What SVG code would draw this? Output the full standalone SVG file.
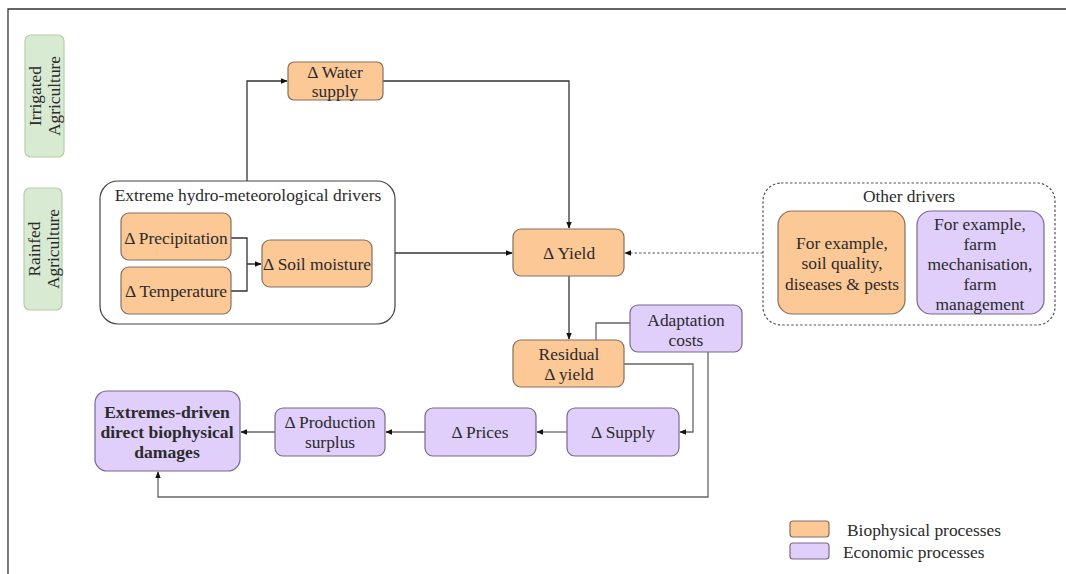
<svg xmlns="http://www.w3.org/2000/svg" width="1066" height="574" viewBox="0 0 1066 574">
<defs>
<style>
text{font-family:"Liberation Serif","DejaVu Serif",serif;font-size:17.4px;fill:#2b2b2b;text-anchor:middle;dominant-baseline:central}
.bio{fill:#fbc896;stroke:#85705e;stroke-width:1.2}
.eco{fill:#e0cffb;stroke:#786a8c;stroke-width:1.2}
.agr{fill:#d8ead2;stroke:#b2cfa8;stroke-width:1.2}
.cont{fill:none;stroke:#444;stroke-width:1.2}
.dash{fill:none;stroke:#555;stroke-width:1.2;stroke-dasharray:2.5 2}
.ln{fill:none;stroke:#333;stroke-width:1.3}
.lg{fill:none;stroke:#666;stroke-width:1.3}
.b{font-weight:bold;font-size:17.6px}
</style>
<marker id="ah" viewBox="0 0 10 10" refX="9" refY="5" markerWidth="7" markerHeight="7" orient="auto" markerUnits="userSpaceOnUse">
<path d="M0,1 L10,5 L0,9 z" fill="#111"/>
</marker>
</defs>
<rect width="1066" height="574" fill="#fff"/>
<path d="M8,574 V9 H1066" fill="none" stroke="#333" stroke-width="1.3"/>

<g id="irrigated"><rect class="agr" x="25" y="35" width="39" height="122" rx="6"/>
<text transform="translate(44,96) rotate(-90)"><tspan x="0" y="-9">Irrigated</tspan><tspan x="0" y="10">Agriculture</tspan></text></g>
<g id="rainfed"><rect class="agr" x="24" y="188" width="38" height="122" rx="6"/>
<text transform="translate(43,249) rotate(-90)"><tspan x="0" y="-9">Rainfed</tspan><tspan x="0" y="10">Agriculture</tspan></text></g>

<g id="connectors">
<path class="ln" d="M231,238 H247 V264 M231,291 H247 V264 H261" marker-end="url(#ah)"/>
<path class="ln" d="M247,181 V81 H287" marker-end="url(#ah)"/>
<path class="ln" d="M383,81 H569 V228" marker-end="url(#ah)"/>
<path class="ln" d="M395,253 H512" marker-end="url(#ah)"/>
<path class="dash" d="M763,253 H625" marker-end="url(#ah)"/>
<path class="ln" d="M569,276 V339" marker-end="url(#ah)"/>
<path class="lg" d="M630,323 H596 V340"/>
<path class="lg" d="M624,364 H693 V432 H680" marker-end="url(#ah)"/>
<path class="lg" d="M567,432 H537" marker-end="url(#ah)"/>
<path class="lg" d="M425,432 H386" marker-end="url(#ah)"/>
<path class="lg" d="M275,432 H241" marker-end="url(#ah)"/>
<path class="lg" d="M708,352 V497 H158 V472" marker-end="url(#ah)"/>
</g>

<g id="drivers"><rect class="cont" x="100" y="181" width="295" height="143" rx="18"/>
<text x="248" y="195">Extreme hydro-meteorological drivers</text></g>
<g id="precipitation"><rect class="bio" x="121" y="213" width="110" height="47" rx="8"/><text x="176" y="238">Δ Precipitation</text></g>
<g id="temperature"><rect class="bio" x="121" y="267" width="110" height="47" rx="8"/><text x="176" y="291">Δ Temperature</text></g>
<g id="soil"><rect class="bio" x="262" y="240" width="110" height="47" rx="8"/><text x="317" y="264">Δ Soil moisture</text></g>
<g id="water"><rect class="bio" x="288" y="62" width="95" height="38" rx="6"/><text x="335" y="72">Δ Water</text><text x="335" y="91">supply</text></g>
<g id="yield"><rect class="bio" x="513" y="229" width="111" height="47" rx="8"/><text x="569" y="253">Δ Yield</text></g>

<g id="other"><rect class="dash" x="763" y="183" width="292" height="142" rx="18"/>
<text x="909" y="196">Other drivers</text></g>
<g id="other-bio"><rect class="bio" x="778" y="211" width="127" height="103" rx="14"/>
<text x="842" y="243">For example,</text><text x="842" y="263">soil quality,</text><text x="842" y="284">diseases &amp; pests</text></g>
<g id="other-eco"><rect class="eco" x="917" y="211" width="127" height="103" rx="14"/>
<text x="980" y="224">For example,</text><text x="980" y="244">farm</text><text x="980" y="264">mechanisation,</text><text x="980" y="284">farm</text><text x="980" y="304">management</text></g>

<g id="residual"><rect class="bio" x="513" y="340" width="111" height="47" rx="8"/><text x="569" y="354">Residual</text><text x="569" y="374">Δ yield</text></g>
<g id="adaptation"><rect class="eco" x="630" y="305" width="112" height="47" rx="8"/><text x="686" y="320">Adaptation</text><text x="686" y="340">costs</text></g>
<g id="supply"><rect class="eco" x="567" y="408" width="112" height="48" rx="8"/><text x="623" y="432">Δ Supply</text></g>
<g id="prices"><rect class="eco" x="425" y="408" width="111" height="48" rx="8"/><text x="480" y="432">Δ Prices</text></g>
<g id="surplus"><rect class="eco" x="275" y="408" width="110" height="48" rx="8"/><text x="330" y="422">Δ Production</text><text x="330" y="442">surplus</text></g>
<g id="damages"><rect class="eco" x="95" y="391" width="145" height="80" rx="12"/>
<text class="b" x="167" y="412">Extremes-driven</text><text class="b" x="167" y="432">direct biophysical</text><text class="b" x="167" y="452">damages</text></g>

<g id="legend">
<rect class="bio" x="790" y="521" width="39" height="16" rx="3"/><text x="847" y="530" style="text-anchor:start">Biophysical processes</text>
<rect class="eco" x="790" y="543" width="39" height="16" rx="3"/><text x="843" y="552" style="text-anchor:start">Economic processes</text>
</g>
</svg>
